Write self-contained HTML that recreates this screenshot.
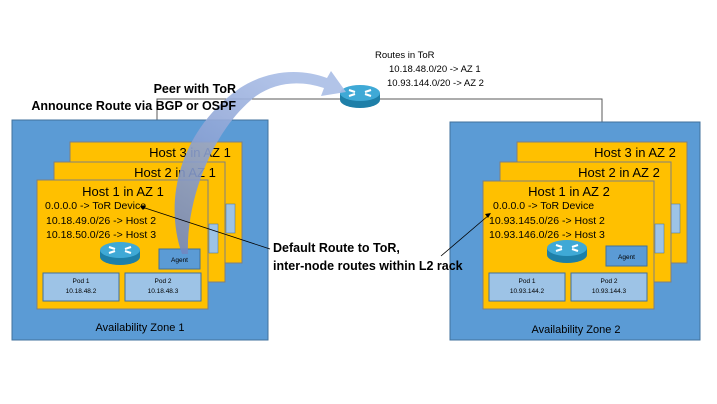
<!DOCTYPE html>
<html><head><meta charset="utf-8"><style>
body{margin:0;width:717px;height:404px;background:#fff;overflow:hidden;position:relative;font-family:"Liberation Sans",sans-serif}
svg{position:absolute;left:0;top:0}
</style></head><body>
<svg width="717" height="404" viewBox="0 0 717 404" font-family="Liberation Sans, sans-serif">
<defs>
<linearGradient id="ag" x1="0" y1="1" x2="0.6" y2="0">
<stop offset="0" stop-color="#6f86c0"/><stop offset="1" stop-color="#a9bde6"/>
</linearGradient>
<g id="rt">
<ellipse cx="0" cy="5" rx="20" ry="8" fill="#1e7fa8"/>
<rect x="-20" y="-2" width="40" height="7" fill="#1e7fa8"/>
<ellipse cx="0" cy="-2" rx="20" ry="8" fill="#3fa9d6"/>
<path d="M-11,-5 l6,2 M-11,1 l6,-2 M11,-5 l-6,2 M11,1 l-6,-2" stroke="#fff" stroke-width="2"/>
</g>
</defs>
<polyline points="157,142 157,99 602,99 602,142" fill="none" stroke="#595959" stroke-width="1"/>
<rect x="12" y="120" width="256" height="220" fill="#5b9bd5" stroke="#41719c"/>
<rect x="450" y="122" width="250" height="218" fill="#5b9bd5" stroke="#41719c"/>
<rect x="70" y="142" width="172" height="121" fill="#ffc000" stroke="#7f7f7f"/>
<rect x="226" y="204" width="9" height="29" fill="#9dc3e6" stroke="#41719c" stroke-width=".5"/>
<text x="190" y="157" font-size="13" text-anchor="middle">Host 3 in AZ 1</text>
<rect x="54" y="162" width="171" height="120" fill="#ffc000" stroke="#7f7f7f"/>
<rect x="209" y="224" width="9" height="29" fill="#9dc3e6" stroke="#41719c" stroke-width=".5"/>
<text x="175" y="177" font-size="13" text-anchor="middle">Host 2 in AZ 1</text>
<rect x="37" y="180" width="171" height="129" fill="#ffc000" stroke="#7f7f7f"/>
<text x="123" y="196" font-size="13" text-anchor="middle">Host 1 in AZ 1</text>
<text x="45" y="209" font-size="10.5">0.0.0.0 -&gt; ToR Device</text>
<text x="46" y="224" font-size="10.5">10.18.49.0/26 -&gt; Host 2</text>
<text x="46" y="238" font-size="10.5">10.18.50.0/26 -&gt; Host 3</text>
<use href="#rt" x="120" y="252"/>
<rect x="159" y="249" width="41" height="20" fill="#5b9bd5" stroke="#41719c"/>
<text x="179.5" y="262" font-size="6.5" text-anchor="middle">Agent</text>
<rect x="43" y="273" width="76" height="28" fill="#9dc3e6" stroke="#41719c"/>
<text x="81" y="283" font-size="6.5" text-anchor="middle">Pod 1</text>
<text x="81" y="293" font-size="6.5" text-anchor="middle">10.18.48.2</text>
<rect x="125" y="273" width="76" height="28" fill="#9dc3e6" stroke="#41719c"/>
<text x="163" y="283" font-size="6.5" text-anchor="middle">Pod 2</text>
<text x="163" y="293" font-size="6.5" text-anchor="middle">10.18.48.3</text>
<text x="140" y="331" font-size="11" text-anchor="middle">Availability Zone 1</text>
<rect x="517" y="142" width="170" height="121" fill="#ffc000" stroke="#7f7f7f"/>
<rect x="671" y="204" width="9" height="29" fill="#9dc3e6" stroke="#41719c" stroke-width=".5"/>
<text x="635" y="157" font-size="13" text-anchor="middle">Host 3 in AZ 2</text>
<rect x="500" y="162" width="171" height="120" fill="#ffc000" stroke="#7f7f7f"/>
<rect x="655" y="224" width="9" height="29" fill="#9dc3e6" stroke="#41719c" stroke-width=".5"/>
<text x="619" y="177" font-size="13" text-anchor="middle">Host 2 in AZ 2</text>
<rect x="483" y="181" width="171" height="128" fill="#ffc000" stroke="#7f7f7f"/>
<text x="569" y="196" font-size="13" text-anchor="middle">Host 1 in AZ 2</text>
<text x="493" y="209" font-size="10.5">0.0.0.0 -&gt; ToR Device</text>
<text x="489" y="224" font-size="10.5">10.93.145.0/26 -&gt; Host 2</text>
<text x="489" y="238" font-size="10.5">10.93.146.0/26 -&gt; Host 3</text>
<use href="#rt" x="567" y="250"/>
<rect x="606" y="246" width="41" height="20" fill="#5b9bd5" stroke="#41719c"/>
<text x="626.5" y="259" font-size="6.5" text-anchor="middle">Agent</text>
<rect x="489" y="273" width="76" height="28" fill="#9dc3e6" stroke="#41719c"/>
<text x="527" y="283" font-size="6.5" text-anchor="middle">Pod 1</text>
<text x="527" y="293" font-size="6.5" text-anchor="middle">10.93.144.2</text>
<rect x="571" y="273" width="76" height="28" fill="#9dc3e6" stroke="#41719c"/>
<text x="609" y="283" font-size="6.5" text-anchor="middle">Pod 2</text>
<text x="609" y="293" font-size="6.5" text-anchor="middle">10.93.144.3</text>
<text x="576" y="333" font-size="11" text-anchor="middle">Availability Zone 2</text>
<use href="#rt" x="360" y="95"/>
<text x="375" y="58" font-size="9.5">Routes in ToR</text>
<text x="389" y="72" font-size="9.5">10.18.48.0/20  -&gt; AZ 1</text>
<text x="387" y="86" font-size="9.5">10.93.144.0/20  -&gt; AZ 2</text>
<path d="M182,254 C163,200 180,130 240,88 C268,70 300,68 327,78 L331,71 L346,92 L321,96 L324,88 C300,80 276,82 256,96 C212,130 186,200 188,254 Z" fill="url(#ag)" opacity=".9"/>
<text x="236" y="93" font-size="12.5" font-weight="bold" text-anchor="end">Peer with ToR</text>
<text x="236" y="110" font-size="12.5" font-weight="bold" text-anchor="end">Announce Route via BGP or OSPF</text>
<text x="273" y="252" font-size="12.5" font-weight="bold">Default Route to ToR,</text>
<text x="273" y="270" font-size="12.5" font-weight="bold">inter-node routes within L2 rack</text>
<line x1="270" y1="249" x2="142" y2="207" stroke="#000" stroke-width=".8"/>
<path d="M140,206 l6,0 l-3,4z" fill="#000"/>
<line x1="441" y1="256" x2="489" y2="215" stroke="#000" stroke-width=".8"/>
<path d="M491,213 l-6,1 l3,4z" fill="#000"/>
</svg>
</body></html>
